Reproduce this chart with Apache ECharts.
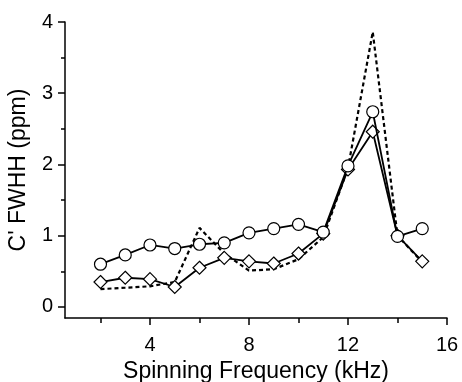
<!DOCTYPE html>
<html>
<head>
<meta charset="utf-8">
<script src="https://cdn.jsdelivr.net/npm/echarts@6/dist/echarts.min.js"></script>
<style>
html, body { margin: 0; padding: 0; background: #fff; }
#chart { width: 462px; height: 382px; }
</style>
</head>
<body>
<div id="chart"></div>
<script>
var freq = [2, 3, 4, 5, 6, 7, 8, 9, 10, 11, 12, 13, 14, 15];
var circleVals = [0.60, 0.73, 0.87, 0.82, 0.88, 0.90, 1.04, 1.10, 1.16, 1.05, 1.98, 2.74, 0.99, 1.10];
var diamondVals = [0.35, 0.41, 0.39, 0.28, 0.55, 0.69, 0.64, 0.61, 0.75, 1.03, 1.93, 2.46, 1.00, 0.64];
var dashedVals = [0.25, 0.27, 0.29, 0.35, 1.11, 0.75, 0.51, 0.53, 0.67, 0.98, 1.95, 3.86, 1.00, 0.63];
var xMajor = [4, 8, 12, 16];
var xMinor = [2, 6, 10, 14];
var yMajor = [0, 1, 2, 3, 4];
var yMinor = [0.5, 1.5, 2.5, 3.5];

function pairs(vals) {
	return freq.map(function (f, i) { return [f, vals[i]]; });
}

var chart = echarts.init(document.getElementById('chart'));
var font = 'Liberation Sans, Arial, sans-serif';
var black = { color: '#000', width: 1.5 };
var xMin = 0.566, xMax = 16, yMin = -0.155, yMax = 4;

var option = {
	animation: false,
	backgroundColor: '#fff',
	grid: { left: 65, right: 15, top: 22, bottom: 64, containLabel: false, outerBoundsMode: 'none' },
	xAxis: [
		{
			type: 'value', min: xMin, max: xMax,
			name: 'Spinning Frequency (kHz)',
			nameLocation: 'middle',
			nameGap: 42,
			nameTextStyle: { color: '#000', fontSize: 23, fontFamily: font },
			axisLine: { show: true, onZero: false, lineStyle: black },
			splitLine: { show: false },
			axisTick: { show: true, customValues: xMajor, length: 7, lineStyle: black },
			axisLabel: { customValues: xMajor, color: '#000', fontSize: 20, fontFamily: font, margin: 17 }
		},
		{
			// minor ticks only
			type: 'value', min: xMin, max: xMax, position: 'bottom',
			axisLine: { show: false, onZero: false },
			splitLine: { show: false },
			axisTick: { show: true, customValues: xMinor, length: 5, lineStyle: black },
			axisLabel: { show: false }
		}
	],
	yAxis: [
		{
			type: 'value', min: yMin, max: yMax,
			name: "C' FWHH (ppm)",
			nameLocation: 'middle',
			nameGap: 35,
			nameTextStyle: { color: '#000', fontSize: 23, fontFamily: font },
			axisLine: { show: true, onZero: false, lineStyle: black },
			splitLine: { show: false },
			axisTick: { show: true, customValues: yMajor, length: 7, lineStyle: black },
			axisLabel: { customValues: yMajor, color: '#000', fontSize: 20, fontFamily: font, margin: 12 }
		},
		{
			type: 'value', min: yMin, max: yMax, position: 'left',
			axisLine: { show: false, onZero: false },
			splitLine: { show: false },
			axisTick: { show: true, customValues: yMinor, length: 4, lineStyle: black },
			axisLabel: { show: false }
		}
	],
	series: [
		{
			type: 'line',
			data: pairs(dashedVals),
			showSymbol: false,
			lineStyle: { color: '#000', width: 2.2, type: [4, 3] },
			z: 2
		},
		{
			type: 'line',
			data: pairs(diamondVals),
			symbol: 'diamond',
			symbolSize: 13,
			lineStyle: { color: '#000', width: 1.8 },
			itemStyle: { color: '#fff', borderColor: '#000', borderWidth: 1.2 },
			z: 3
		},
		{
			type: 'line',
			data: pairs(circleVals),
			symbol: 'circle',
			symbolSize: 12,
			lineStyle: { color: '#000', width: 1.8 },
			itemStyle: { color: '#fff', borderColor: '#000', borderWidth: 1.2 },
			z: 4
		}
	]
};
chart.setOption(option);
</script>
</body>
</html>
